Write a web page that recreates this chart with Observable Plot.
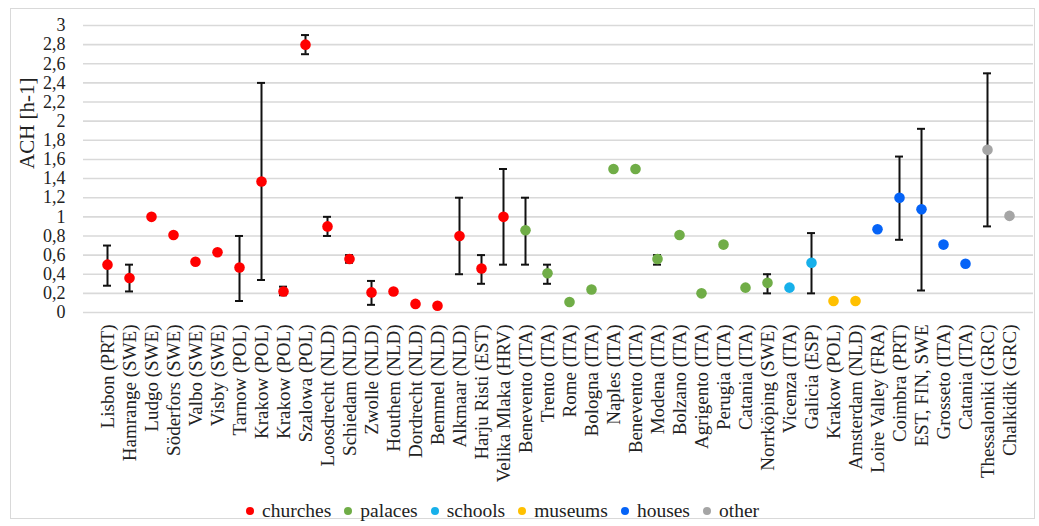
<!DOCTYPE html>
<html><head><meta charset="utf-8">
<script src="https://cdn.jsdelivr.net/npm/d3@7"></script>
<script src="https://cdn.jsdelivr.net/npm/@observablehq/plot@0.6"></script>
<style>
body{margin:0;background:#fff;font-family:"Liberation Serif","Times New Roman",serif;}
#frame{position:absolute;left:10px;top:8px;width:1025px;height:511px;border:1px solid #d9d9d9;box-sizing:border-box;}
#chart{position:absolute;left:0;top:0;}
#legend{position:absolute;left:246px;top:498px;display:flex;align-items:center;font-family:"Liberation Serif","Times New Roman",serif;font-size:19.5px;color:#222;line-height:26px;white-space:nowrap;}
#legend .item{display:flex;align-items:center;margin-right:13px;}
#legend .sw{width:8px;height:8px;border-radius:50%;margin-right:8px;}
#chart svg g[aria-label="x-axis tick label"]{font-size:19px;}
</style></head>
<body>
<div id="frame"></div>
<div id="chart"></div>
<div id="legend"></div>
<script>
const sites = ["Lisbon (PRT)","Hamrange (SWE)","Ludgo (SWE)","Söderfors (SWE)","Valbo (SWE)","Visby (SWE)","Tarnow (POL)","Krakow (POL)","Krakow (POL)","Szalowa (POL)","Loosdrecht (NLD)","Schiedam (NLD)","Zwolle (NLD)","Houthem (NLD)","Dordrecht (NLD)","Bemmel (NLD)","Alkmaar (NLD)","Harju Risti (EST)","Velika Mlaka (HRV)","Benevento (ITA)","Trento (ITA)","Rome (ITA)","Bologna (ITA)","Naples (ITA)","Benevento (ITA)","Modena (ITA)","Bolzano (ITA)","Agrigento (ITA)","Perugia (ITA)","Catania (ITA)","Norrköping (SWE)","Vicenza (ITA)","Galicia (ESP)","Krakow (POL)","Amsterdam (NLD)","Loire Valley (FRA)","Coimbra (PRT)","EST, FIN, SWE","Grosseto (ITA)","Catania (ITA)","Thessaloniki (GRC)","Chalkidik (GRC)"];
const types = ["churches","churches","churches","churches","churches","churches","churches","churches","churches","churches","churches","churches","churches","churches","churches","churches","churches","churches","churches","palaces","palaces","palaces","palaces","palaces","palaces","palaces","palaces","palaces","palaces","palaces","palaces","schools","schools","museums","museums","houses","houses","houses","houses","houses","other","other"];
const ach = [0.5,0.36,1.0,0.81,0.53,0.63,0.47,1.37,0.22,2.8,0.9,0.56,0.21,0.22,0.09,0.07,0.8,0.46,1.0,0.86,0.41,0.11,0.24,1.5,1.5,0.56,0.81,0.2,0.71,0.26,0.31,0.26,0.52,0.12,0.12,0.87,1.2,1.08,0.71,0.51,1.7,1.01];
const errLow = [0.28,0.22,null,null,null,null,0.12,0.34,0.18,2.7,0.8,0.52,0.08,null,null,null,0.4,0.3,0.5,0.5,0.3,null,null,null,null,0.5,null,null,null,null,0.2,null,0.2,null,null,null,0.76,0.23,null,null,0.9,null];
const errHigh = [0.7,0.5,null,null,null,null,0.8,2.4,0.27,2.9,1.0,0.6,0.33,null,null,null,1.2,0.6,1.5,1.2,0.5,null,null,null,null,0.6,null,null,null,null,0.4,null,0.83,null,null,null,1.63,1.92,null,null,2.5,null];
const typeNames = ["churches","palaces","schools","museums","houses","other"];
const typeColors = ["#ff0000","#70ad47","#17b0ea","#ffc000","#0563f7","#a5a5a5"];
const yTicks = [0,0.2,0.4,0.6,0.8,1,1.2,1.4,1.6,1.8,2,2.2,2.4,2.6,2.8,3];

const rows = sites.map((s,i)=>({key:i, site:s, type:types[i], ach:ach[i], lo:errLow[i], hi:errHigh[i]}));
const errRows = rows.filter(d=>d.lo!=null);
const fmt = d => String(d).replace(".", ",");

const chart = Plot.plot({
  width:1039, height:500,
  marginLeft:83, marginRight:6, marginTop:25, marginBottom:188,
  style:{fontFamily:'"Liberation Serif","Times New Roman",serif', fontSize:"18px", color:"#222", background:"transparent", overflow:"visible"},
  x:{type:"band", domain:rows.map(d=>d.key), padding:0},
  y:{domain:[0,3]},
  color:{domain:typeNames, range:typeColors},
  marks:[
    Plot.gridY(yTicks, {stroke:"#d9d9d9", strokeOpacity:1, strokeWidth:1.6}),
    Plot.axisY(yTicks, {tickSize:0, tickPadding:18, tickFormat:fmt, label:null, fontSize:18}),
    Plot.axisX({tickSize:0, tickRotate:-90, tickPadding:12, tickFormat:i=>sites[i], label:null, fontSize:19}),
    Plot.ruleX(errRows, {x:"key", y1:"lo", y2:"hi", stroke:"#111", strokeWidth:2}),
    Plot.tickY(errRows, {x:"key", y:"lo", insetLeft:7, insetRight:7, stroke:"#111", strokeWidth:2}),
    Plot.tickY(errRows, {x:"key", y:"hi", insetLeft:7, insetRight:7, stroke:"#111", strokeWidth:2}),
    Plot.dot(rows, {x:"key", y:"ach", r:5.3, fill:"type", stroke:null}),
    Plot.text(["ACH [h-1]"], {frameAnchor:"left", dx:-56, rotate:-90, fontSize:21, fill:"#222"})
  ]
});
document.getElementById("chart").appendChild(chart);

const leg = document.getElementById("legend");
typeNames.forEach((n,i)=>{
  const it = document.createElement("div"); it.className="item";
  const sw = document.createElement("span"); sw.className="sw"; sw.style.background=typeColors[i];
  const tx = document.createElement("span"); tx.textContent=n;
  it.appendChild(sw); it.appendChild(tx); leg.appendChild(it);
});
</script>
</body></html>
